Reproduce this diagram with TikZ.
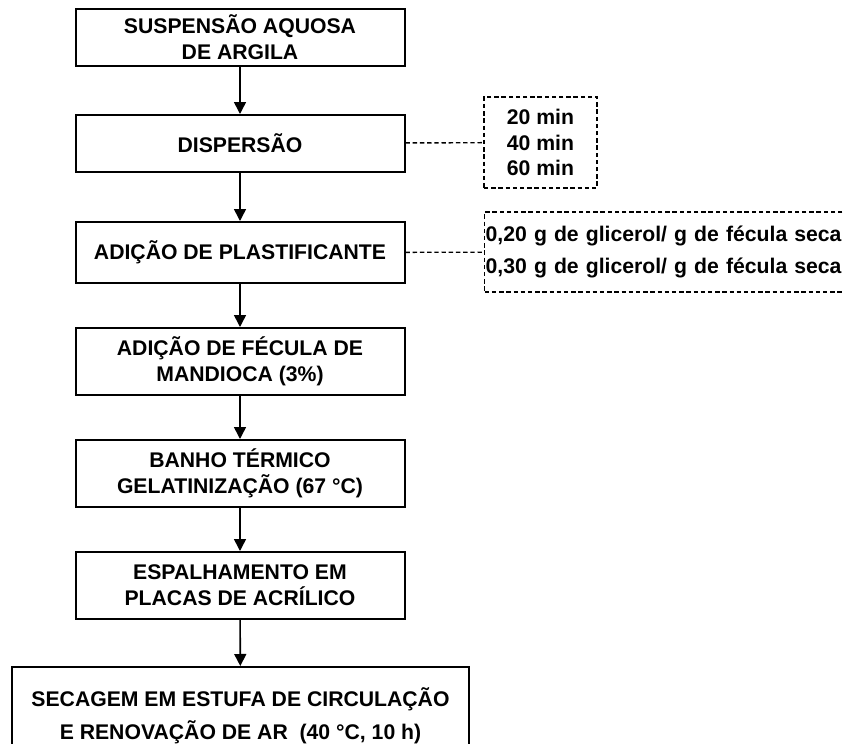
\documentclass[tikz,border=0pt]{standalone}
\usepackage{fontspec}
\setmainfont{Liberation Sans}
\usetikzlibrary{arrows.meta}

\begin{document}
\begin{tikzpicture}[x=0.5pt,y=-0.5pt]
\useasboundingbox (0,0) rectangle (843,744);
   \tikzset{StepStyle/.style = {draw, line width=1pt, minimum width=164.5pt, align=center, inner sep=2pt, font=\fontsize{10.6}{13}\selectfont\bfseries}}
   \tikzset{NoteStyle/.style = {draw, dash pattern=on 2.2pt off 1.4pt, line width=0.7pt, inner sep=0.5pt}}
   \tikzset{FlowStyle/.style = {line width=0.8pt, -{Triangle[length=6pt,width=6pt]}}}
   \tikzset{LinkStyle/.style = {line width=0.7pt, dash pattern=on 2.2pt off 1.4pt}}

   \node[StepStyle, minimum height=28.5pt] (susp) at (240,37.5) {SUSPENSÃO AQUOSA\\DE ARGILA};
   \node[StepStyle, minimum height=28.5pt] (disp) at (240,143.5) {DISPERSÃO};
   \node[StepStyle, minimum height=30.5pt] (plast) at (240,252.5) {ADIÇÃO DE PLASTIFICANTE};
   \node[StepStyle, minimum height=33.5pt] (fecula) at (240,361.5) {ADIÇÃO DE FÉCULA DE\\MANDIOCA (3\%)};
   \node[StepStyle, minimum height=33.5pt] (banho) at (240,473.5) {BANHO TÉRMICO\\GELATINIZAÇÃO (67~°C)};
   \node[StepStyle, minimum height=33.5pt] (espalha) at (240,585.5) {ESPALHAMENTO EM\\PLACAS DE ACRÍLICO};
   \node[StepStyle, minimum width=228.5pt, minimum height=49pt, font=\fontsize{10.6}{16.5}\selectfont\bfseries] (secagem) at (240.5,716) {SECAGEM EM ESTUFA DE CIRCULAÇÃO\\E RENOVAÇÃO DE AR~~(40~°C, 10 h)};

%  notas tracejadas
   \node[NoteStyle, minimum width=56.5pt, minimum height=45.5pt, align=center, font=\fontsize{10.6}{12.75}\selectfont\bfseries] (tempo) at (540.5,142.5) {20 min\\40 min\\60 min};
   \node[NoteStyle, anchor=west, minimum width=190pt, minimum height=40pt, align=left, text width=189pt, font=\fontsize{10.6}{16.25}\selectfont\bfseries] (glicerol) at (484,252) {0,20 g de glicerol/ g de fécula seca\\0,30 g de glicerol/ g de fécula seca};

   \draw[FlowStyle] (susp) -- (disp);
   \draw[FlowStyle] (disp) -- (plast);
   \draw[FlowStyle] (plast) -- (fecula);
   \draw[FlowStyle] (fecula) -- (banho);
   \draw[FlowStyle] (banho) -- (espalha);
   \draw[FlowStyle] (espalha) -- (secagem);

   \draw[LinkStyle] (disp) -- (tempo);
   \draw[LinkStyle] (plast) -- (glicerol);
\end{tikzpicture}
\end{document}
